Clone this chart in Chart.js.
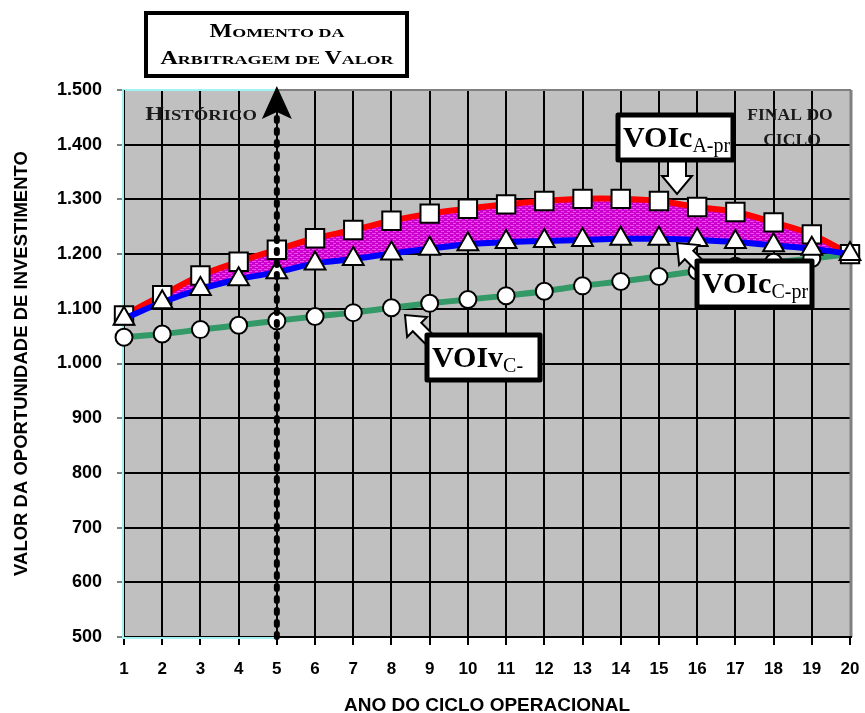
<!DOCTYPE html>
<html>
<head>
<meta charset="utf-8">
<script src="https://cdn.jsdelivr.net/npm/chart.js@4"></script>
<style>
html,body{margin:0;padding:0;background:#fff;}
#wrap{width:865px;height:713px;position:relative;}
</style>
</head>
<body>
<div id="wrap"><canvas id="c" width="865" height="713"></canvas></div>
<script>
// ---- DATA ----
const years = [1,2,3,4,5,6,7,8,9,10,11,12,13,14,15,16,17,18,19,20];
const voicApr = [1088,1125,1161,1186,1208,1229,1244,1261,1274,1283,1291,1297,1301,1301,1297,1286,1277,1258,1236,1200];
const voicCpr = [1082,1112,1136,1154,1167,1183,1191,1201,1210,1218,1222,1224,1226,1228,1228,1226,1222,1216,1210,1200];
const voivC   = [1048,1054,1062,1070,1078,1086,1093,1102,1110,1117,1124,1132,1142,1150,1159,1169,1178,1185,1192,1200];
const yTickValues = [500,600,700,800,900,1000,1100,1200,1300,1400,1500];
const yTickLabels = ['500','600','700','800','900','1.000','1.100','1.200','1.300','1.400','1.500'];
const xTickLabels = ['1','2','3','4','5','6','7','8','9','10','11','12','13','14','15','16','17','18','19','20'];
const arbitrageYear = 5;

const SANS = '"Liberation Sans", Arial, sans-serif';
const SERIF = '"Liberation Serif", "Times New Roman", serif';

// hatched magenta fill
function makePattern(){
  const p = document.createElement('canvas');
  p.width = 6; p.height = 4;
  const g = p.getContext('2d');
  g.fillStyle = '#cc00cc'; g.fillRect(0,0,6,4);
  g.fillStyle = '#f048f0'; g.fillRect(0,1,4,1); g.fillRect(3,3,3,1);
  return g.createPattern(p,'repeat');
}
const fillPattern = makePattern();

function smallCaps(ctx, text, cx, y, big, small, sx){
  const segs = [];
  for (const ch of text){
    const up = ch !== ch.toLowerCase() && ch === ch.toUpperCase();
    segs.push({t: ch.toUpperCase(), f: 'bold ' + (up ? big : small) + 'px ' + SERIF});
  }
  let total = 0;
  segs.forEach(s => { ctx.font = s.f; s.w = ctx.measureText(s.t).width; total += s.w; });
  ctx.save();
  ctx.translate(cx, y); ctx.scale(sx, 1);
  let x = -total/2;
  ctx.textAlign = 'left'; ctx.textBaseline = 'alphabetic';
  segs.forEach(s => { ctx.font = s.f; ctx.fillText(s.t, x, 0); x += s.w; });
  ctx.restore();
}

function stretchedText(ctx, text, cx, y, font, sx){
  ctx.save();
  ctx.translate(cx, y); ctx.scale(sx, 1);
  ctx.font = font; ctx.textAlign = 'center'; ctx.textBaseline = 'alphabetic';
  ctx.fillText(text, 0, 0);
  ctx.restore();
}

function blockArrow(ctx, tx, ty, fx, fy, headLen, headW, shaftW){
  const ang = Math.atan2(ty - fy, tx - fx);
  const len = Math.hypot(tx - fx, ty - fy);
  ctx.save();
  ctx.translate(fx, fy); ctx.rotate(ang);
  ctx.beginPath();
  ctx.moveTo(0, -shaftW/2);
  ctx.lineTo(len - headLen, -shaftW/2);
  ctx.lineTo(len - headLen, -headW/2);
  ctx.lineTo(len, 0);
  ctx.lineTo(len - headLen, headW/2);
  ctx.lineTo(len - headLen, shaftW/2);
  ctx.lineTo(0, shaftW/2);
  ctx.closePath();
  ctx.fillStyle = '#fff'; ctx.fill();
  ctx.lineWidth = 2; ctx.strokeStyle = '#000'; ctx.lineJoin = 'miter'; ctx.stroke();
  ctx.restore();
}

function labelBox(ctx, x, y, w, h, main, sub){
  ctx.save();
  ctx.fillStyle = '#fff';
  ctx.fillRect(x, y, w, h);
  ctx.lineWidth = 5; ctx.strokeStyle = '#000'; ctx.lineJoin = 'round';
  ctx.strokeRect(x, y, w, h);
  ctx.fillStyle = '#000';
  ctx.textAlign = 'left'; ctx.textBaseline = 'alphabetic';
  ctx.font = 'bold 30px ' + SERIF;
  ctx.fillText(main, x + 5, y + 32);
  const mw = ctx.measureText(main).width;
  ctx.font = '20px ' + SERIF;
  ctx.fillText(sub, x + 5 + mw, y + 37);
  ctx.restore();
}

const decor = {
  id: 'decor',
  beforeDraw(chart){
    const {ctx, chartArea: a} = chart;
    ctx.save();
    ctx.fillStyle = '#fff'; ctx.fillRect(0,0,chart.width,chart.height);
    ctx.fillStyle = '#c0c0c0';
    ctx.fillRect(a.left, a.top, a.right - a.left, a.bottom - a.top);
    ctx.restore();
  },
  beforeDatasetsDraw(chart){
    const {ctx, chartArea: a, scales: {x}} = chart;
    const x5 = x.getPixelForValue(arbitrageYear);
    ctx.save();
    ctx.strokeStyle = '#808080';
    ctx.lineWidth = 2;
    ctx.beginPath(); ctx.moveTo(a.left, a.top); ctx.lineTo(a.right + 1, a.top); ctx.stroke();
    ctx.lineWidth = 3;
    ctx.beginPath(); ctx.moveTo(a.right + 1, a.top); ctx.lineTo(a.right + 1, a.bottom); ctx.stroke();
    ctx.strokeStyle = '#000'; ctx.lineWidth = 2;
    ctx.beginPath(); ctx.moveTo(a.left, a.bottom); ctx.lineTo(a.right + 2, a.bottom); ctx.stroke();
    ctx.strokeStyle = '#9ff3f3'; ctx.lineWidth = 2;
    ctx.beginPath();
    ctx.moveTo(x5, a.top); ctx.lineTo(a.left - 1, a.top); ctx.lineTo(a.left - 1, a.bottom + 1); ctx.lineTo(x5, a.bottom + 1);
    ctx.stroke();
    ctx.strokeStyle = '#000'; ctx.lineWidth = 1;
    ctx.beginPath(); ctx.moveTo(a.left + 0.5, a.top); ctx.lineTo(a.left + 0.5, a.bottom); ctx.stroke();
    ctx.restore();
  },
  afterDatasetsDraw(chart){
    const {ctx, chartArea: a, scales: {x}} = chart;
    const x5 = x.getPixelForValue(arbitrageYear);
    ctx.save();
    ctx.strokeStyle = '#000'; ctx.lineWidth = 6; ctx.lineCap = 'round';
    ctx.setLineDash([3, 9]);
    ctx.beginPath(); ctx.moveTo(x5, a.bottom); ctx.lineTo(x5, a.top + 22); ctx.stroke();
    ctx.setLineDash([]);
    ctx.fillStyle = '#000';
    ctx.beginPath();
    ctx.moveTo(x5, a.top - 4);
    ctx.lineTo(x5 + 15, a.top + 29);
    ctx.lineTo(x5, a.top + 22);
    ctx.lineTo(x5 - 15, a.top + 29);
    ctx.closePath(); ctx.fill();

    ctx.fillStyle = '#1a1a1a';
    smallCaps(ctx, 'Histórico', a.left + 77, a.top + 30, 18, 14, 1.33);
    stretchedText(ctx, 'FINAL DO', 790, a.top + 30, 'bold 16px ' + SERIF, 1.1);
    stretchedText(ctx, 'CICLO', 792, a.top + 55, 'bold 16px ' + SERIF, 1.1);

    blockArrow(ctx, 677, 194, 677, 158, 18, 30, 18);
    blockArrow(ctx, 677, 243, 706, 272, 17, 28, 12);
    blockArrow(ctx, 405, 315, 438, 348, 17, 28, 12);

    labelBox(ctx, 618, 115, 115, 45, 'VOIc', 'A-pr');
    labelBox(ctx, 697, 261, 115, 46, 'VOIc', 'C-pr');
    labelBox(ctx, 427, 335, 113, 45, 'VOIv', 'C-');

    ctx.fillStyle = '#fff';
    ctx.fillRect(146, 13, 261, 63);
    ctx.lineWidth = 4; ctx.strokeStyle = '#000';
    ctx.strokeRect(146, 13, 261, 63);
    ctx.fillStyle = '#000';
    smallCaps(ctx, 'Momento da', 277, 37, 18, 13.5, 1.33);
    smallCaps(ctx, 'Arbitragem de Valor', 277, 64, 18, 13.5, 1.33);
    ctx.restore();
  }
};

const pointCommon = {
  pointBackgroundColor: '#fff',
  pointBorderColor: '#000',
  pointBorderWidth: 2,
  pointHoverRadius: 0,
  clip: false
};

new Chart(document.getElementById('c'), {
  type: 'line',
  data: {
    datasets: [
      Object.assign({
        label: 'VOIc A-pr',
        data: years.map((v,i) => ({x: v, y: voicApr[i]})),
        borderColor: '#ff0000', borderWidth: 6,
        backgroundColor: fillPattern,
        fill: '+1',
        pointStyle: 'rect', pointRadius: 13,
        tension: 0.35, order: 2
      }, pointCommon),
      Object.assign({
        label: 'VOIc C-pr',
        data: years.map((v,i) => ({x: v, y: voicCpr[i]})),
        borderColor: '#0000ff', borderWidth: 6,
        fill: false,
        pointStyle: 'triangle', pointRadius: 12,
        tension: 0.35, order: 1
      }, pointCommon),
      Object.assign({
        label: 'VOIv C-',
        data: years.map((v,i) => ({x: v, y: voivC[i]})),
        borderColor: '#339966', borderWidth: 6,
        fill: false,
        pointStyle: 'circle', pointRadius: 8.5,
        tension: 0.35, order: 3
      }, pointCommon)
    ]
  },
  options: {
    responsive: false,
    animation: false,
    events: [],
    layout: { padding: { top: 90, right: 15, left: 0, bottom: 0 } },
    plugins: { legend: { display: false }, tooltip: { enabled: false } },
    scales: {
      x: {
        type: 'linear', min: 1, max: 20,
        afterFit(s){ s.height = 76; s.paddingLeft = 0; s.paddingRight = 0; },
        afterBuildTicks(s){ s.ticks = years.map(v => ({value: v})); },
        ticks: {
          autoSkip: false, maxRotation: 0, padding: 14,
          color: '#000',
          font: { family: SANS, size: 17, weight: 'bold' },
          callback: (v) => xTickLabels[years.indexOf(v)]
        },
        grid: {
          color: (c) => (c.tick && (c.tick.value === 1 || c.tick.value === 20)) ? 'rgba(0,0,0,0)' : '#000',
          lineWidth: 2, tickColor: '#000', tickLength: 8, tickWidth: 2
        },
        border: { display: false },
        title: {
          display: true, text: 'ANO DO CICLO OPERACIONAL', color: '#000',
          font: { family: SANS, size: 19, weight: 'bold', lineHeight: 0.8 },
          padding: 0
        }
      },
      y: {
        min: 500, max: 1500,
        afterFit(s){ s.width = 124; s.paddingTop = 0; s.paddingBottom = 0; },
        afterBuildTicks(s){ s.ticks = yTickValues.map(v => ({value: v})); },
        ticks: {
          padding: 15, color: '#000',
          font: { family: SANS, size: 18, weight: 'bold' },
          callback: (v) => yTickLabels[yTickValues.indexOf(v)]
        },
        grid: {
          color: (c) => (c.tick && (c.tick.value === 500 || c.tick.value === 1500)) ? 'rgba(0,0,0,0)' : '#000',
          lineWidth: 2, tickColor: '#000', tickLength: 7, tickWidth: 1
        },
        border: { display: false },
        title: {
          display: true, text: 'VALOR DA OPORTUNIDADE DE INVESTIMENTO', color: '#000',
          font: { family: SANS, size: 18.5, weight: 'bold' },
          padding: { top: 11, bottom: 0 }
        }
      }
    }
  },
  plugins: [decor]
});
</script>
</body>
</html>
